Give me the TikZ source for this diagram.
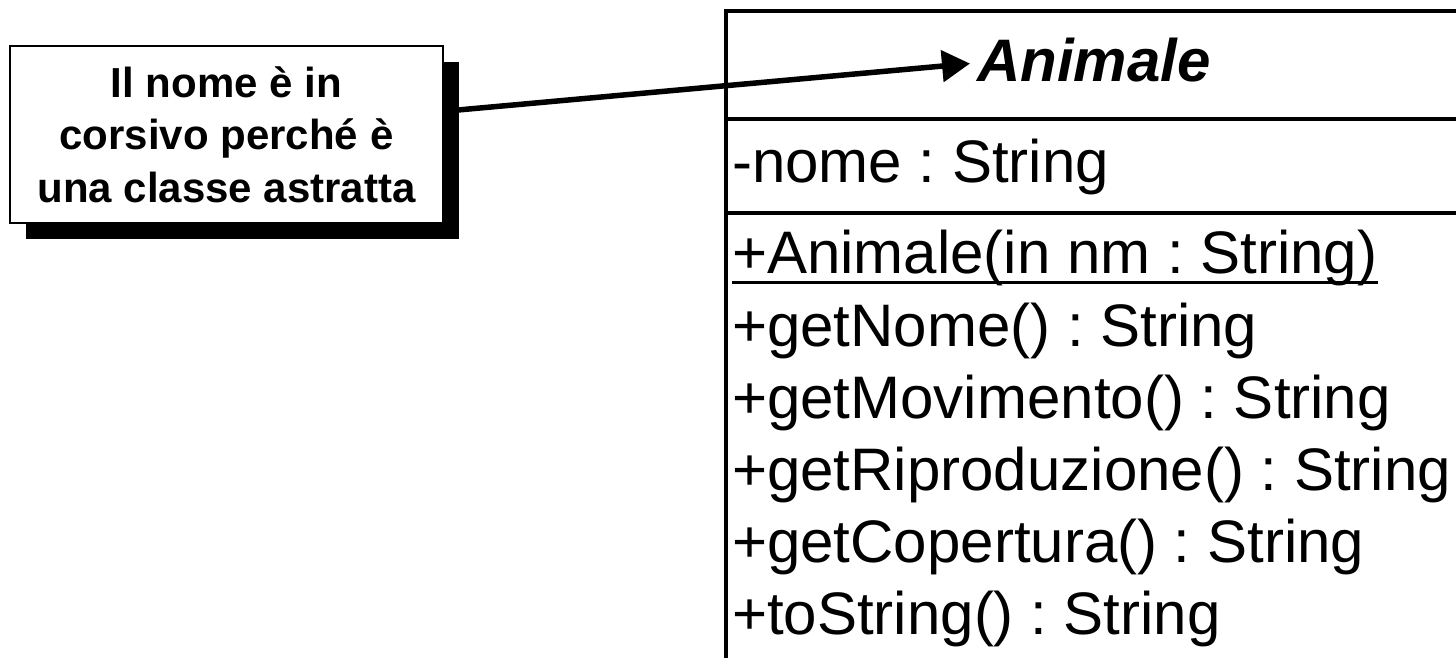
\documentclass[tikz,border=0pt]{standalone}
\usepackage{fontspec}
\setmainfont{Liberation Sans}
\usetikzlibrary{arrows.meta,shadows,calc}
\AtBeginDocument{\frenchspacing}
\begin{document}
\begin{tikzpicture}[x=1pt,y=-1pt,
  member/.style={anchor=base west, inner sep=0pt, font=\fontsize{60}{72}\selectfont},
  classname/.style={member, inner xsep=7pt, font=\fontsize{60}{72}\selectfont\bfseries\itshape},
  notebox/.style={draw=black, line width=1.5pt, fill=white,
    minimum width=433pt, minimum height=177pt, inner sep=0pt, align=center,
    font=\fontsize{42}{52.5}\selectfont\bfseries,
    drop shadow={shadow xshift=16pt, shadow yshift=-16pt, fill=black, opacity=1}},
  classline/.style={line width=4.5pt},
  underline/.style={line width=3pt},
  pointer/.style={line width=5.5pt, -{Triangle[length=28pt,width=31pt]}}]
\useasboundingbox (0,0) rectangle (1456,658);

% class compartments (right border runs past the page edge)
\draw[classline] (1462,11) -- (726,11) -- (726,664);
\draw[classline] (726,119) -- (1462,119);
\draw[classline] (726,213) -- (1462,213);

% class name, attribute and operations
\node[classname] (title) at (970,82) {Animale};
\node[member] (attr) at (732,182) {-nome : String};
\node[member] (ctor) at (732,273) {+Animale(in nm : String)};
\draw[underline] ([yshift=-9pt]ctor.base west) -- ([yshift=-9pt]ctor.base east);
\node[member] (op1) at (732,346) {+getNome() : String};
\node[member] (op2) at (732,418) {+getMovimento() : String};
\node[member] (op3) at (732,490) {+getRiproduzione() : String};
\node[member] (op4) at (732,562) {+getCopertura() : String};
\node[member] (op5) at (732,634) {+toString() : String};

% comment note with its shadow
\node[notebox] (note) at (226.5,134.5) {Il nome è in\\corsivo perché è\\una classe astratta};

% pointer from the note to the class name
\coordinate (src) at ($(note.north east)!0.37!(note.south east)$);
\draw[pointer] (src) -- ([yshift=-3pt]title.west);
\end{tikzpicture}
\end{document}
